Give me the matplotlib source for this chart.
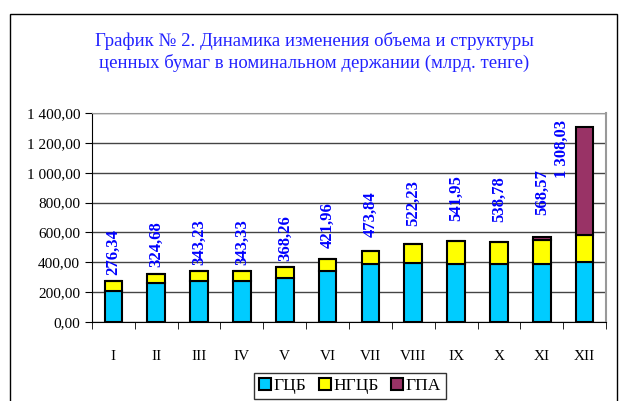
import numpy as np
import matplotlib
matplotlib.use("Agg")
import matplotlib.pyplot as plt
from matplotlib.patches import Rectangle
from matplotlib.ticker import FuncFormatter

plt.rcParams['font.family'] = ['Liberation Serif', 'DejaVu Serif']

months = ['I', 'II', 'III', 'IV', 'V', 'VI', 'VII', 'VIII', 'IX', 'X', 'XI', 'XII']
gcb = [210, 259, 272, 272, 297, 344, 391, 397, 391, 386, 386, 400]
ngcb = [66.34, 65.68, 71.23, 71.33, 71.26, 77.96, 82.84, 125.23, 150.95, 152.78, 161.57, 183.03]
gpa = [0, 0, 0, 0, 0, 0, 0, 0, 0, 0, 21, 725]
totals = [276.34, 324.68, 343.23, 343.33, 368.26, 421.96, 473.84, 522.23, 541.95, 538.78, 568.57, 1308.03]
series_names = ['ГЦБ', 'НГЦБ', 'ГПА']
colors = ['#00CCFF', '#FFFF00', '#993366']

def fmt_ru(v, pos=None):
    s = f"{v:,.2f}"
    return s.replace(',', ' ').replace('.', ',')

fig = plt.figure(figsize=(6.19, 4.01), dpi=100)
# outer frame of the chart area
fig.patches.append(Rectangle((10/619, -0.1), 607/619, 1.1 - 14/401, transform=fig.transFigure,
                             fill=False, edgecolor='black', linewidth=1.0))

ax = fig.add_axes([92/619, 1 - 322/401, 514/619, 209/401])
x = np.arange(len(months))
w = 0.41
g = np.array(gcb); n = np.array(ngcb); p = np.array(gpa)
ax.bar(x, g, w, color=colors[0], edgecolor='black', linewidth=1.5, label=series_names[0], zorder=3)
ax.bar(x, n, w, bottom=g, color=colors[1], edgecolor='black', linewidth=1.5, label=series_names[1], zorder=3)
ax.bar(x, p, w, bottom=g + n, color=colors[2], edgecolor='black', linewidth=1.5, label=series_names[2], zorder=3)

ax.set_xlim(-0.5, len(months) - 0.5)
ax.set_ylim(0, 1400)
ax.set_yticks(np.arange(0, 1401, 200))
ax.yaxis.set_major_formatter(FuncFormatter(fmt_ru))
ax.set_xticks(x)
ax.set_xticklabels(months)
ax.set_xticks(np.arange(-0.5, len(months)), minor=True)
ax.tick_params(axis='x', which='major', length=0, pad=20, labelsize=11)
ax.tick_params(axis='x', which='minor', length=5, direction='out')
ax.tick_params(axis='y', length=5, direction='out', labelsize=11)
ax.grid(axis='y', color='#444444', linewidth=1.0, zorder=0)
ax.spines['top'].set_color('#999999')
ax.spines['right'].set_color('#999999')
ax.spines['right'].set_linewidth(1.5)

# value labels (offset above bar in pixels)
offsets = [6, 7, 6, 6, 6, 11, 14, 18, 20, 20, 22]
for i in range(len(months) - 1):
    ax.annotate(fmt_ru(totals[i]), (x[i], totals[i]), xytext=(0, offsets[i]), textcoords='offset pixels',
                rotation=90, ha='center', va='bottom', color='#0000FF', fontweight='bold', fontsize=12)
ax.annotate(fmt_ru(totals[-1]), (x[-1], totals[-1]), xytext=(-23, 7), textcoords='offset pixels',
            rotation=90, ha='center', va='top', color='#0000FF', fontweight='bold', fontsize=12)

fig.text(0.508, 1 - 52/401, 'График № 2. Динамика изменения объема и структуры\nценных бумаг в номинальном держании (млрд. тенге)',
         ha='center', va='center', color='#2222FF', fontsize=13.5, linespacing=1.35)

leg = fig.legend(loc='center', bbox_to_anchor=(350/619, 1 - 386/401), ncol=3, frameon=True, fancybox=False,
                 edgecolor='black', fontsize=12.5, handlelength=0.7, handleheight=0.7, handletextpad=0.15,
                 columnspacing=0.7, borderpad=0.3)
leg.get_frame().set_linewidth(1.0)

fig.savefig('out.png', dpi=100)
